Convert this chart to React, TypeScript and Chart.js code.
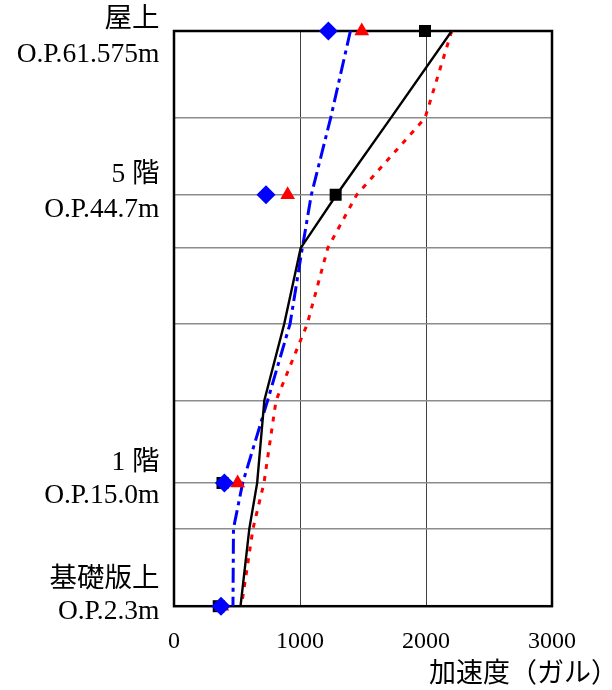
import React, { useEffect, useRef } from "react";
import { Chart, registerables } from "chart.js";

Chart.register(...registerables);

// Floor levels (O.P. m) where the horizontal grid lines sit
const floorLevels = [61.575, 52.6, 44.7, 39.2, 31.4, 23.5, 15.0, 10.3, 2.3];

// Line series (acceleration, gal) at each floor level
const blackLine = [2204, 1720, 1290, 1005, 875, 717, 660, 598, 528];
const blueLine = [1400, 1243, 1090, 1018, 921, 743, 545, 472, 468];
const redLine = [2204, 1992, 1450, 1220, 1058, 810, 714, 627, 535];

// Marker series
const markerLevels = [61.575, 44.7, 15.0, 2.3];
const blueDiamonds = [1225, 730, 400, 373];
const redTriangles = [1490, 902, 505, 380];
const blackSquares = [1992, 1283, 385, 355];

// Y axis labels
const labelLevels = [61.575, 44.7, 15.0, 2.3];
const labelFloor = ["屋上", "5 階", "1 階", "基礎版上"];
const labelOP = ["O.P.61.575m", "O.P.44.7m", "O.P.15.0m", "O.P.2.3m"];

// X axis
const xTicks = [0, 1000, 2000, 3000];
const xMin = 0;
const xMax = 3000;
const xTitle = "加速度（ガル）";

const SERIF = '"Liberation Serif", "Noto Sans CJK JP", serif';

const pairs = (xs: number[], ys: number[]) => xs.map((x, i) => ({ x, y: ys[i] }));

// style nudges for the two-line y labels (baseline offsets from tick pixel)
const firstLineShift = [-4, -12.7, -12.7, -19];
const secondLineShift = [31.3, 22.6, 20.3, 13];

const overlayPlugin = {
  id: "overlay",
  beforeDatasetsDraw(chart: any) {
    const { ctx, chartArea: a } = chart;
    ctx.save();
    ctx.strokeStyle = "#000";
    ctx.lineWidth = 2.5;
    ctx.strokeRect(a.left, a.top, a.right - a.left, a.bottom - a.top);
    ctx.restore();
  },
  afterDraw(chart: any) {
    const { ctx, chartArea: a } = chart;
    const y = chart.scales.y;
    ctx.save();
    ctx.fillStyle = "#000";
    ctx.font = "27.5px " + SERIF;
    ctx.textAlign = "right";
    ctx.textBaseline = "alphabetic";
    const lx = a.left - 14.5;
    labelLevels.forEach((lv, i) => {
      const py = y.getPixelForValue(lv);
      ctx.fillText(labelFloor[i], lx, py + firstLineShift[i]);
      ctx.fillText(labelOP[i], lx, py + secondLineShift[i]);
    });
    ctx.font = "27px " + SERIF;
    ctx.textAlign = "left";
    ctx.fillText(xTitle, 429, 682);
    ctx.restore();
  },
};

export default function App() {
  const ref = useRef<HTMLCanvasElement | null>(null);
  useEffect(() => {
    document.body.style.margin = "0";
    const canvas = ref.current!;
    const chart = new Chart(canvas, {
      type: "scatter",
      data: {
        datasets: [
          {
            data: pairs(blueDiamonds, markerLevels),
            pointStyle: "rectRot",
            pointRadius: 9.5,
            pointBackgroundColor: "#0000ff",
            pointBorderColor: "#0000ff",
            pointBorderWidth: 0,
            showLine: false,
            clip: false,
            order: 1,
          } as any,
          {
            data: pairs(redTriangles, markerLevels),
            pointStyle: "triangle",
            pointRadius: 8.5,
            pointBackgroundColor: "#ff0000",
            pointBorderColor: "#ff0000",
            pointBorderWidth: 0,
            showLine: false,
            clip: false,
            order: 2,
          },
          {
            data: pairs(blackSquares, markerLevels),
            pointStyle: "rect",
            pointRadius: 8.5,
            pointBackgroundColor: "#000",
            pointBorderColor: "#000",
            pointBorderWidth: 0,
            showLine: false,
            clip: false,
            order: 3,
          },
          {
            data: pairs(blackLine, floorLevels),
            showLine: true,
            borderColor: "#000",
            borderWidth: 2.4,
            pointRadius: 0,
            tension: 0,
            order: 4,
          },
          {
            data: pairs(blueLine, floorLevels),
            showLine: true,
            borderColor: "#0000ff",
            borderWidth: 3,
            borderDash: [15, 5, 4, 5],
            pointRadius: 0,
            tension: 0,
            order: 5,
          },
          {
            data: pairs(redLine, floorLevels),
            showLine: true,
            borderColor: "#ff0000",
            borderWidth: 3,
            borderDash: [5, 7],
            pointRadius: 0,
            tension: 0,
            order: 6,
          },
        ],
      },
      options: {
        animation: false,
        responsive: false,
        layout: { padding: { left: 174, right: 60, top: 31, bottom: 13 } },
        plugins: { legend: { display: false }, tooltip: { enabled: false } },
        scales: {
          x: {
            type: "linear",
            min: xMin,
            max: xMax,
            afterBuildTicks: (s: any) => {
              s.ticks = xTicks.map((v) => ({ value: v }));
            },
            grid: { color: "#404040", lineWidth: 1, drawTicks: false },
            border: { display: false },
            ticks: {
              padding: 21,
              color: "#000",
              maxRotation: 0,
              font: { family: SERIF, size: 24 },
              callback: (v: any) => String(v),
            },
          },
          y: {
            type: "linear",
            min: floorLevels[floorLevels.length - 1],
            max: floorLevels[0],
            afterBuildTicks: (s: any) => {
              s.ticks = floorLevels.map((v) => ({ value: v }));
            },
            grid: { color: "#8c8c8c", lineWidth: 1.5, drawTicks: false },
            border: { display: false },
            ticks: { display: false },
          },
        },
      },
      plugins: [overlayPlugin],
    });
    return () => chart.destroy();
  }, []);
  return (
    <canvas
      ref={ref}
      width={612}
      height={690}
      style={{ display: "block", width: 612, height: 690 }}
    />
  );
}
